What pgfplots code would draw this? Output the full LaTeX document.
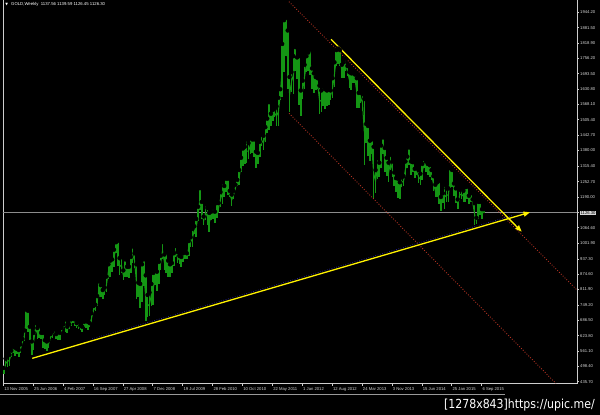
\documentclass[border=0pt]{standalone}
\usepackage{pgfplots}
\pgfplotsset{compat=1.18}
\usepackage{pgfplotstable}
\usepackage{fontspec}
\setmainfont{Liberation Sans}
\newfontfamily\dejavu{DejaVu Sans}
\usetikzlibrary{arrows.meta}
\definecolor{mtgreen}{RGB}{20,150,20}
\definecolor{mtframe}{RGB}{205,205,205}
\definecolor{mttext}{RGB}{215,215,215}
\definecolor{mtmaroon}{RGB}{175,50,35}
\definecolor{mtnavy}{RGB}{40,40,170}

\pgfplotstableread{
w l h
0 468 492
2 490 530
4 495 542
6 500 545
8 535 562
10 552 578
12 540 575
14 550 570
16 535 565
18 552 588
20 585 610
22 600 645
24 650 730
26 640 725
28 605 660
30 543 600
32 565 635
34 630 675
36 610 655
38 615 665
40 610 635
42 575 635
44 570 605
46 560 600
48 575 605
50 600 630
52 615 640
54 630 650
56 610 630
58 605 640
60 605 635
62 635 655
64 650 670
66 640 690
68 635 660
70 650 670
72 665 690
74 675 695
76 665 690
78 655 675
80 650 680
82 645 665
84 640 660
86 660 680
88 655 685
90 645 680
92 660 675
94 675 715
96 710 745
98 725 750
100 745 785
102 780 845
104 780 830
106 775 810
108 790 820
110 800 865
112 855 915
114 865 930
116 885 935
118 905 975
120 960 1005
122 910 1011
124 870 940
126 880 945
128 850 890
130 865 935
132 865 905
134 860 905
136 880 945
138 920 988
140 900 960
142 775 915
144 780 840
146 735 835
148 760 915
150 825 935
152 682 870
154 700 790
156 705 800
158 745 835
160 750 880
162 830 890
164 805 885
166 835 925
168 890 950
170 935 1006
172 890 955
174 880 965
176 865 930
178 865 915
180 880 920
182 910 960
184 945 990
186 920 965
188 915 950
190 905 945
192 925 960
194 935 970
196 935 960
198 950 1010
200 985 1025
202 985 1060
204 1040 1070
206 1025 1100
208 1090 1150
210 1135 1226
212 1100 1170
214 1075 1110
216 1095 1160
218 1075 1145
220 1045 1125
222 1095 1130
224 1100 1145
226 1085 1130
228 1105 1165
230 1125 1165
232 1150 1210
234 1160 1250
236 1190 1235
238 1210 1265
240 1200 1265
242 1190 1215
244 1155 1200
246 1180 1215
248 1215 1240
250 1235 1260
252 1240 1300
254 1290 1350
256 1315 1388
258 1325 1395
260 1330 1425
262 1345 1410
264 1365 1432
266 1370 1425
268 1355 1425
270 1310 1375
272 1325 1370
274 1355 1415
276 1400 1445
278 1380 1440
280 1415 1475
282 1450 1510
284 1465 1577
286 1480 1530
288 1500 1545
290 1515 1550
292 1480 1560
294 1480 1595
296 1585 1630
298 1600 1815
300 1700 1912
302 1765 1921
304 1630 1870
306 1535 1680
308 1620 1700
310 1610 1765
312 1705 1802
314 1670 1760
316 1565 1765
318 1520 1625
320 1590 1665
322 1630 1730
324 1700 1765
326 1705 1780
328 1690 1792
330 1630 1715
332 1615 1695
334 1625 1680
336 1630 1675
338 1527 1645
340 1535 1625
342 1560 1640
344 1550 1630
346 1560 1625
348 1565 1630
350 1585 1625
352 1595 1675
354 1640 1740
356 1725 1790
358 1735 1796
360 1725 1790
362 1675 1730
364 1675 1740
366 1705 1755
368 1685 1725
370 1635 1700
372 1625 1695
374 1655 1695
376 1655 1690
378 1555 1675
380 1555 1615
382 1575 1617
384 1540 1610
386 1321 1590
388 1410 1488
390 1358 1480
392 1338 1420
394 1365 1425
396 1180 1395
398 1207 1300
400 1265 1348
402 1270 1330
404 1310 1400
406 1365 1433
408 1290 1390
410 1275 1350
412 1250 1330
414 1300 1362
416 1270 1335
418 1235 1290
420 1210 1267
422 1185 1265
424 1182 1250
426 1230 1270
428 1235 1275
430 1270 1335
432 1310 1355
434 1320 1392
436 1278 1335
438 1290 1332
440 1268 1305
442 1280 1310
444 1245 1300
446 1240 1285
448 1258 1325
450 1310 1345
452 1290 1335
454 1280 1325
456 1273 1320
458 1260 1300
460 1215 1275
462 1190 1240
464 1190 1250
466 1160 1255
468 1131 1190
470 1165 1205
472 1140 1240
474 1170 1225
476 1170 1225
478 1225 1307
480 1230 1300
482 1195 1245
484 1165 1225
486 1142 1180
488 1175 1220
490 1180 1225
492 1170 1215
494 1170 1230
496 1180 1232
498 1162 1195
500 1170 1205
502 1160 1180
504 1077 1165
506 1080 1105
508 1100 1170
510 1115 1170
512 1098 1140
514 1126 1140
}\gold

\begin{document}
\begin{tikzpicture}
\fill[black] (0,0) rectangle (600bp,415bp);
\begin{axis}[
  at={(3bp,31.5bp)}, anchor=south west,
  scale only axis, width=574bp, height=383.5bp,
  xmin=-0.32, xmax=614.2, ymin=428.2, ymax=1994.4,
  axis x line*=bottom, axis y line*=right,
  axis line style={draw=mtframe, line width=0.6bp},
  xtick={0,32,64,96,128,160,192,224,256,288,320,352,384,416,448,480,512},
  xticklabels={13 Nov 2005,25 Jun 2006,4 Feb 2007,16 Sep 2007,27 Apr 2008,7 Dec 2008,19 Jul 2009,28 Feb 2010,10 Oct 2010,22 May 2011,1 Jan 2012,12 Aug 2012,24 Mar 2013,3 Nov 2013,15 Jun 2014,25 Jan 2015,6 Sep 2015},
  ytick={435.7,498.4,561.1,623.8,686.5,749.2,811.9,874.6,937.3,1001.9,1064.6,1190.0,1252.7,1315.4,1380.0,1442.7,1505.4,1568.1,1630.8,1693.5,1756.2,1818.9,1881.5,1944.2},
  yticklabels={435.70,498.40,561.10,623.80,686.50,749.20,811.90,874.60,937.30,1001.90,1064.60,1190.00,1252.70,1315.40,1380.00,1442.70,1505.40,1568.10,1630.80,1693.50,1756.20,1818.90,1881.50,1944.20},
  extra y ticks={1126.3}, extra y tick labels={1126.30},
  extra y tick style={yticklabel style={fill=mttext, text=black, inner sep=0.5bp}},
  tick align=outside, major tick length=2.2bp,
  tick style={draw=mtframe, line width=0.5bp},
  tick label style={font=\fontsize{4.2}{4.2}\selectfont, text=mttext},
  xticklabel style={anchor=north west, inner sep=0pt, xshift=0.8bp, yshift=-2bp},
  yticklabel style={anchor=west, inner sep=0pt, xshift=0.8bp},
  clip=true,
]
\draw[mtframe, line width=0.6bp] (rel axis cs:0,0) -- (rel axis cs:0,1);
% current price line
\addplot[draw=white!55!black, line width=0.5bp] coordinates {(-1,1126.3) (620,1126.3)};
% weekly price range bars
\addplot[only marks, mark=none,
  error bars/.cd, y dir=minus, y explicit, error mark=none,
  error bar style={draw=mtgreen, line width=1.6bp, solid}]
  table[x expr=\thisrow{w}+0.5, y=h, y error minus expr=\thisrow{h}-\thisrow{l}] {\gold};
\addplot[mtgreen, line width=1.0bp, mark=none]
  table[x expr=\thisrow{w}+0.5, y expr=(\thisrow{l}+\thisrow{h})/2] {\gold};
% channel lines (dotted maroon)
\addplot[mtmaroon, line width=0.9bp, dash pattern=on 0.9bp off 1.7bp] coordinates {(305.9,1987.5) (614.2,810)};
\addplot[mtmaroon, line width=0.9bp, dash pattern=on 0.9bp off 1.7bp] coordinates {(305.9,1531.7) (591.7,428.2)};
% faint navy dotted support
\addplot[mtnavy, line width=0.6bp, dash pattern=on 0.8bp off 1.6bp] coordinates {(95,610.6) (545,1114.2)};
% yellow trend lines with arrows
\addplot[yellow, line width=1.3bp, -{Triangle[length=6.5bp,width=5bp]}] coordinates {(31.0,531.0) (563.9,1127.4)};
\addplot[yellow, line width=1.3bp, -{Triangle[length=6.5bp,width=5bp]}] coordinates {(350.9,1833.9) (555.0,1048.2)};
\end{axis}
% header text
\node[anchor=center, inner sep=0pt, text=white, font=\dejavu\fontsize{3.5}{3.5}\selectfont] at (6.7bp,410.6bp) {▼};
\node[anchor=west, inner sep=0pt, text=white, font=\fontsize{4.3}{4.3}\selectfont] at (11bp,410.6bp) {GOLD,Weekly\ \ 1137.56 1139.59 1126.45 1126.30};
% bottom separator
\draw[white!60!black, line width=0.6bp] (0,21bp) -- (505bp,21bp);
% watermark
\node[anchor=east, inner sep=0pt, text=white, font=\dejavu\fontsize{12.5}{12.5}\selectfont] at (595bp,9.5bp) {\scalebox{0.88}[1]{[1278x843]https://upic.me/}};
\pgfresetboundingbox
\useasboundingbox (0,0) rectangle (600bp,415bp);
\end{tikzpicture}
\end{document}
